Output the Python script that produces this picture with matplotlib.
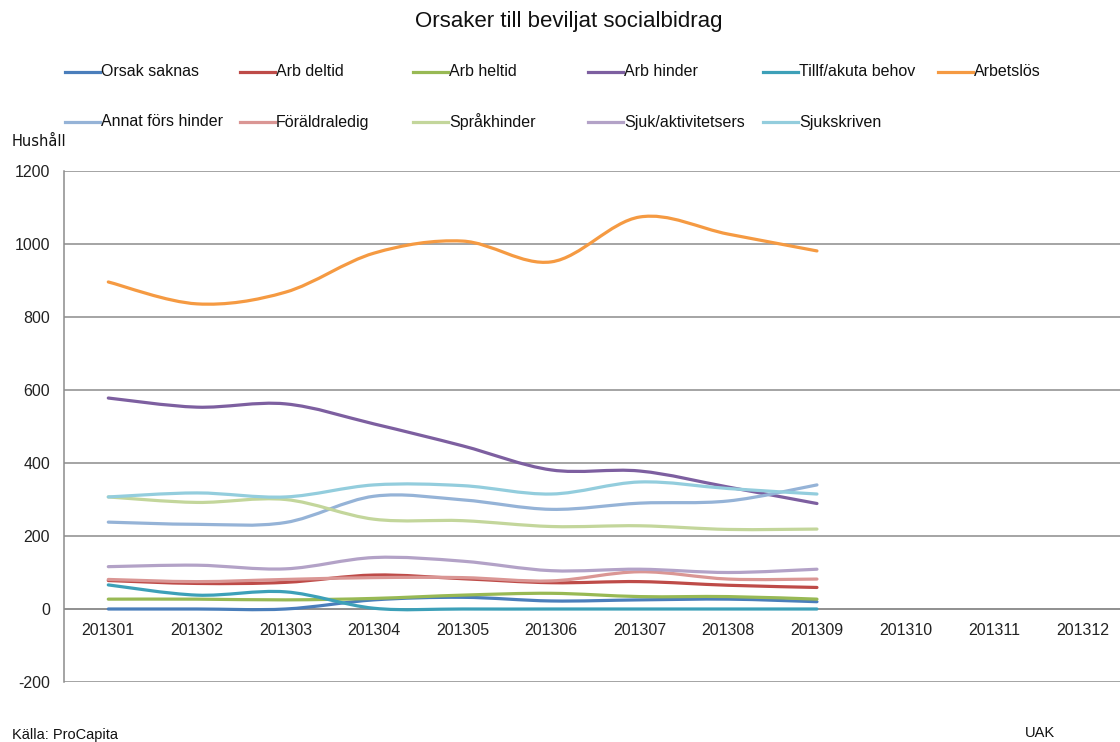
import matplotlib
matplotlib.use("Agg")
import matplotlib.pyplot as plt
from matplotlib.path import Path
from matplotlib.patches import PathPatch
from matplotlib.lines import Line2D

plt.rcParams['font.family'] = ['Liberation Sans', 'DejaVu Sans']
plt.rcParams['axes.unicode_minus'] = False

title = "Orsaker till beviljat socialbidrag"
months = ["201301", "201302", "201303", "201304", "201305", "201306",
          "201307", "201308", "201309", "201310", "201311", "201312"]

series_names = ["Orsak saknas", "Arb deltid", "Arb heltid", "Arb hinder",
                "Tillf/akuta behov", "Arbetslös", "Annat förs hinder",
                "Föräldraledig", "Språkhinder", "Sjuk/aktivitetsers", "Sjukskriven"]

orsak_saknas = [0, 0, 0, 25, 32, 22, 25, 27, 20]
arb_deltid = [78, 70, 73, 93, 83, 72, 75, 65, 59]
arb_heltid = [27, 27, 25, 29, 38, 43, 34, 34, 27]
arb_hinder = [578, 553, 562, 507, 447, 381, 378, 334, 289]
tillf_akuta = [66, 38, 47, 2, 0, 0, 0, 0, 0]
arbetslos = [896, 836, 868, 975, 1008, 951, 1074, 1027, 981]
annat_fors = [238, 232, 237, 309, 299, 273, 290, 296, 340]
foraldraledig = [81, 75, 81, 86, 86, 77, 102, 82, 82]
sprakhinder = [307, 292, 300, 246, 242, 226, 228, 218, 219]
sjuk_aktiv = [116, 120, 110, 141, 131, 105, 109, 100, 109]
sjukskriven = [307, 318, 307, 340, 338, 315, 348, 330, 315]

series_values = [orsak_saknas, arb_deltid, arb_heltid, arb_hinder, tillf_akuta,
                 arbetslos, annat_fors, foraldraledig, sprakhinder, sjuk_aktiv,
                 sjukskriven]

colors = ["#4A7EBB", "#BE4B48", "#98B954", "#7D5FA0", "#3DA0B8", "#F59A42",
          "#95B3D7", "#DA9694", "#C3D69B", "#B3A2C7", "#93CDDD"]

W, H = 1120, 742
fig = plt.figure(figsize=(W / 100, H / 100), dpi=100)

# axes in pixel coordinates
left_px, right_px = 64.0, 1127.0
top_px, bottom_px = 171.0, 682.0
ax = fig.add_axes([left_px / W, 1 - bottom_px / H,
                   (right_px - left_px) / W, (bottom_px - top_px) / H])
ax.set_xlim(0.5, 12.5)
ax.set_ylim(-200, 1200)
ax.set_yticks(range(-200, 1201, 200))
ax.yaxis.grid(True, color="#8C8C8C", linewidth=1.1)
ax.set_axisbelow(True)
ax.set_xticks([])
for s in ["top", "right", "bottom"]:
    ax.spines[s].set_visible(False)
ax.spines["left"].set_color("#8C8C8C")
ax.spines["left"].set_linewidth(1.1)
ax.tick_params(axis="y", length=0, pad=10, labelsize=11.5, labelcolor="#222222")
ax.axhline(0, color="#8C8C8C", linewidth=1.1, zorder=1)

for i, m in enumerate(months):
    ax.text(i + 1, -38, m, ha="center", va="top", fontsize=11.5, color="#222222")


def smooth_path(xs, ys):
    n = len(xs)
    verts = [(xs[0], ys[0])]
    codes = [Path.MOVETO]
    for i in range(n - 1):
        x0, y0 = xs[max(i - 1, 0)], ys[max(i - 1, 0)]
        x1, y1 = xs[i], ys[i]
        x2, y2 = xs[i + 1], ys[i + 1]
        x3, y3 = xs[min(i + 2, n - 1)], ys[min(i + 2, n - 1)]
        c1 = (x1 + (x2 - x0) / 6.0, y1 + (y2 - y0) / 6.0)
        c2 = (x2 - (x3 - x1) / 6.0, y2 - (y3 - y1) / 6.0)
        verts += [c1, c2, (x2, y2)]
        codes += [Path.CURVE4, Path.CURVE4, Path.CURVE4]
    return Path(verts, codes)


for k, (vals, col) in enumerate(zip(series_values, colors)):
    xs = list(range(1, len(vals) + 1))
    p = smooth_path(xs, vals)
    patch = PathPatch(p, facecolor="none", edgecolor=col, linewidth=2.3,
                      capstyle="round", joinstyle="round", zorder=3 + k)
    ax.add_patch(patch)

# title
fig.text(569 / W, 1 - 22 / H, title, ha="center", va="center", fontsize=16,
         color="#111111")

# legend (manual, Excel-like)
legend_pos = [(65, 72), (240, 72), (413, 72), (588, 72), (763, 72), (938, 72),
              (65, 122), (240, 122), (413, 122), (588, 122), (763, 122)]
for name, col, (lx, ly) in zip(series_names, colors, legend_pos):
    yf = 1 - ly / H
    fig.add_artist(Line2D([lx / W, (lx + 35) / W], [yf, yf], color=col,
                          linewidth=2.3, transform=fig.transFigure))
    fig.text((lx + 36) / W, yf, name, ha="left", va="center", fontsize=11.5,
             color="#111111")

fig.text(12 / W, 1 - 142 / H, "Hushåll", ha="left", va="center", fontsize=10.5,
         family=["DejaVu Sans"], color="#111111")
fig.text(12 / W, 1 - 735 / H, "Källa: ProCapita", ha="left", va="center",
         fontsize=10.5, color="#111111")
fig.text(1025 / W, 1 - 733 / H, "UAK", ha="left", va="center", fontsize=10.5,
         color="#111111")

fig.savefig("out.png", dpi=100)
